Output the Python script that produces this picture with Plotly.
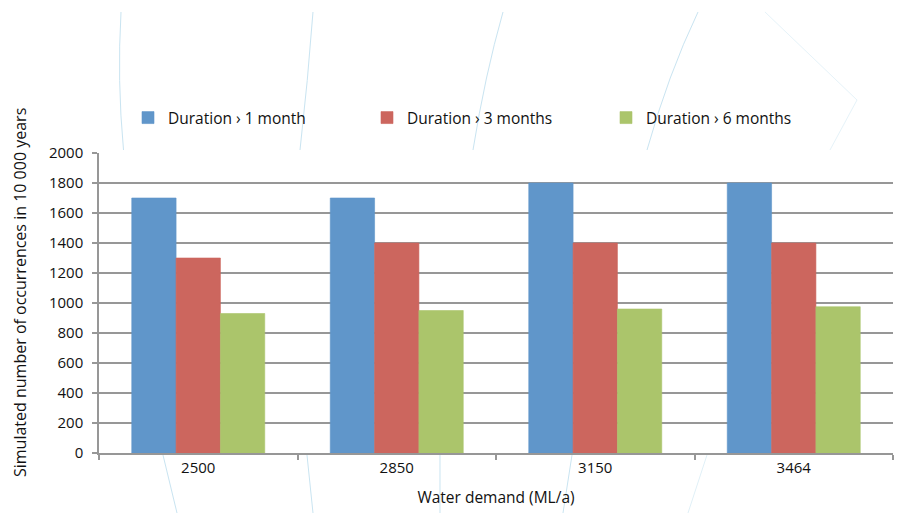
import plotly.graph_objects as go

# Simulated drought occurrences per water demand level
demand = ["2500", "2850", "3150", "3464"]
dur_1_month = [1700, 1700, 1800, 1800]
dur_3_months = [1300, 1400, 1400, 1400]
dur_6_months = [930, 950, 960, 975]

series_names = ["Duration \u203a 1 month", "Duration \u203a 3 months", "Duration \u203a 6 months"]
series_colors = ["#6096ca", "#cc665e", "#abc56b"]
y_ticks = [0, 200, 400, 600, 800, 1000, 1200, 1400, 1600, 1800, 2000]

W, H = 901, 513
ML, MR, MT, MB = 99, 8, 153, 60
PW, PH = W - ML - MR, H - MT - MB

FONT = "Open Sans"
GRID = "#979797"


def paper(x, y):
    """Pixel position -> paper coordinates."""
    return (x - ML) / PW, (H - MB - y) / PH


def curve(p0, c, p1):
    (x0, y0), (cx, cy), (x1, y1) = paper(*p0), paper(*c), paper(*p1)
    return f"M{x0:.5f},{y0:.5f} Q{cx:.5f},{cy:.5f} {x1:.5f},{y1:.5f}"


def poly(*pts):
    conv = [paper(*p) for p in pts]
    return "M" + " L".join(f"{x:.5f},{y:.5f}" for x, y in conv)


fig = go.Figure()
for name, vals, col in zip(series_names, [dur_1_month, dur_3_months, dur_6_months], series_colors):
    fig.add_trace(go.Bar(
        x=demand, y=vals, name=name,
        marker=dict(color=col, line=dict(color=col, width=0.6)),
    ))

# faint background contour decoration
deco = [
    (curve((121, 12), (117, 80), (123.5, 150)), "#c9e4f1"),
    (curve((313, 12), (308, 80), (300, 150)), "#c9e4f1"),
    (curve((503, 12), (485, 75), (473, 150)), "#c9e4f1"),
    (curve((698, 12), (668, 75), (647, 150)), "#c9e4f1"),
    (poly((765, 12), (857, 100), (830, 150)), "#e6f3f9"),
    (poly((163, 455), (177, 513)), "#c9e4f1"),
    (poly((307, 455), (313, 513)), "#c9e4f1"),
    (poly((440, 455), (440, 513)), "#c9e4f1"),
    (poly((572, 455), (563, 513)), "#c9e4f1"),
    (poly((707, 455), (688, 513)), "#e0f0f7"),
]
shapes = [dict(type="path", xref="paper", yref="paper", path=p, layer="below",
               line=dict(color=c, width=1)) for p, c in deco]

ytx, yty = paper(20, 293)

fig.update_layout(
    width=W, height=H,
    margin=dict(l=ML, r=MR, t=MT, b=MB, autoexpand=False),
    paper_bgcolor="white", plot_bgcolor="white",
    font=dict(family=FONT, size=15, color="#111111"),
    barmode="group", bargap=0.33, bargroupgap=0,
    showlegend=True,
    legend=dict(
        orientation="h", x=paper(128, 0)[0], y=paper(0, 118)[1],
        xanchor="left", yanchor="middle",
        entrywidth=194, entrywidthmode="pixels",
        font=dict(family=FONT, size=15.5, color="#111111"),
        bgcolor="rgba(0,0,0,0)", traceorder="normal",
    ),
    xaxis=dict(
        type="category", tickson="boundaries",
        ticks="outside", ticklen=5, tickcolor=GRID, tickwidth=1.5,
        showline=True, linecolor=GRID, linewidth=1.5,
        showgrid=False, zeroline=False,
        tickfont=dict(family=FONT, size=15),
        title=dict(text="Water demand (ML/a)", standoff=16,
                   font=dict(family=FONT, size=15.5)),
    ),
    yaxis=dict(
        range=[0, 2000], tickvals=y_ticks, ticktext=[str(v) for v in y_ticks],
        ticks="outside", ticklen=5, tickcolor=GRID, tickwidth=1.5,
        showline=True, linecolor=GRID, linewidth=1.5,
        showgrid=True, gridcolor=GRID, gridwidth=1.8,
        zeroline=False, ticklabelstandoff=6,
        tickfont=dict(family=FONT, size=15),
    ),
    shapes=shapes,
    annotations=[dict(
        text="Simulated number of occurrences in 10 000 years",
        xref="paper", yref="paper", x=ytx, y=yty, textangle=-90,
        showarrow=False, xanchor="center", yanchor="middle",
        font=dict(family=FONT, size=16, color="#111111"),
    )],
)

fig.write_html("out.html")
